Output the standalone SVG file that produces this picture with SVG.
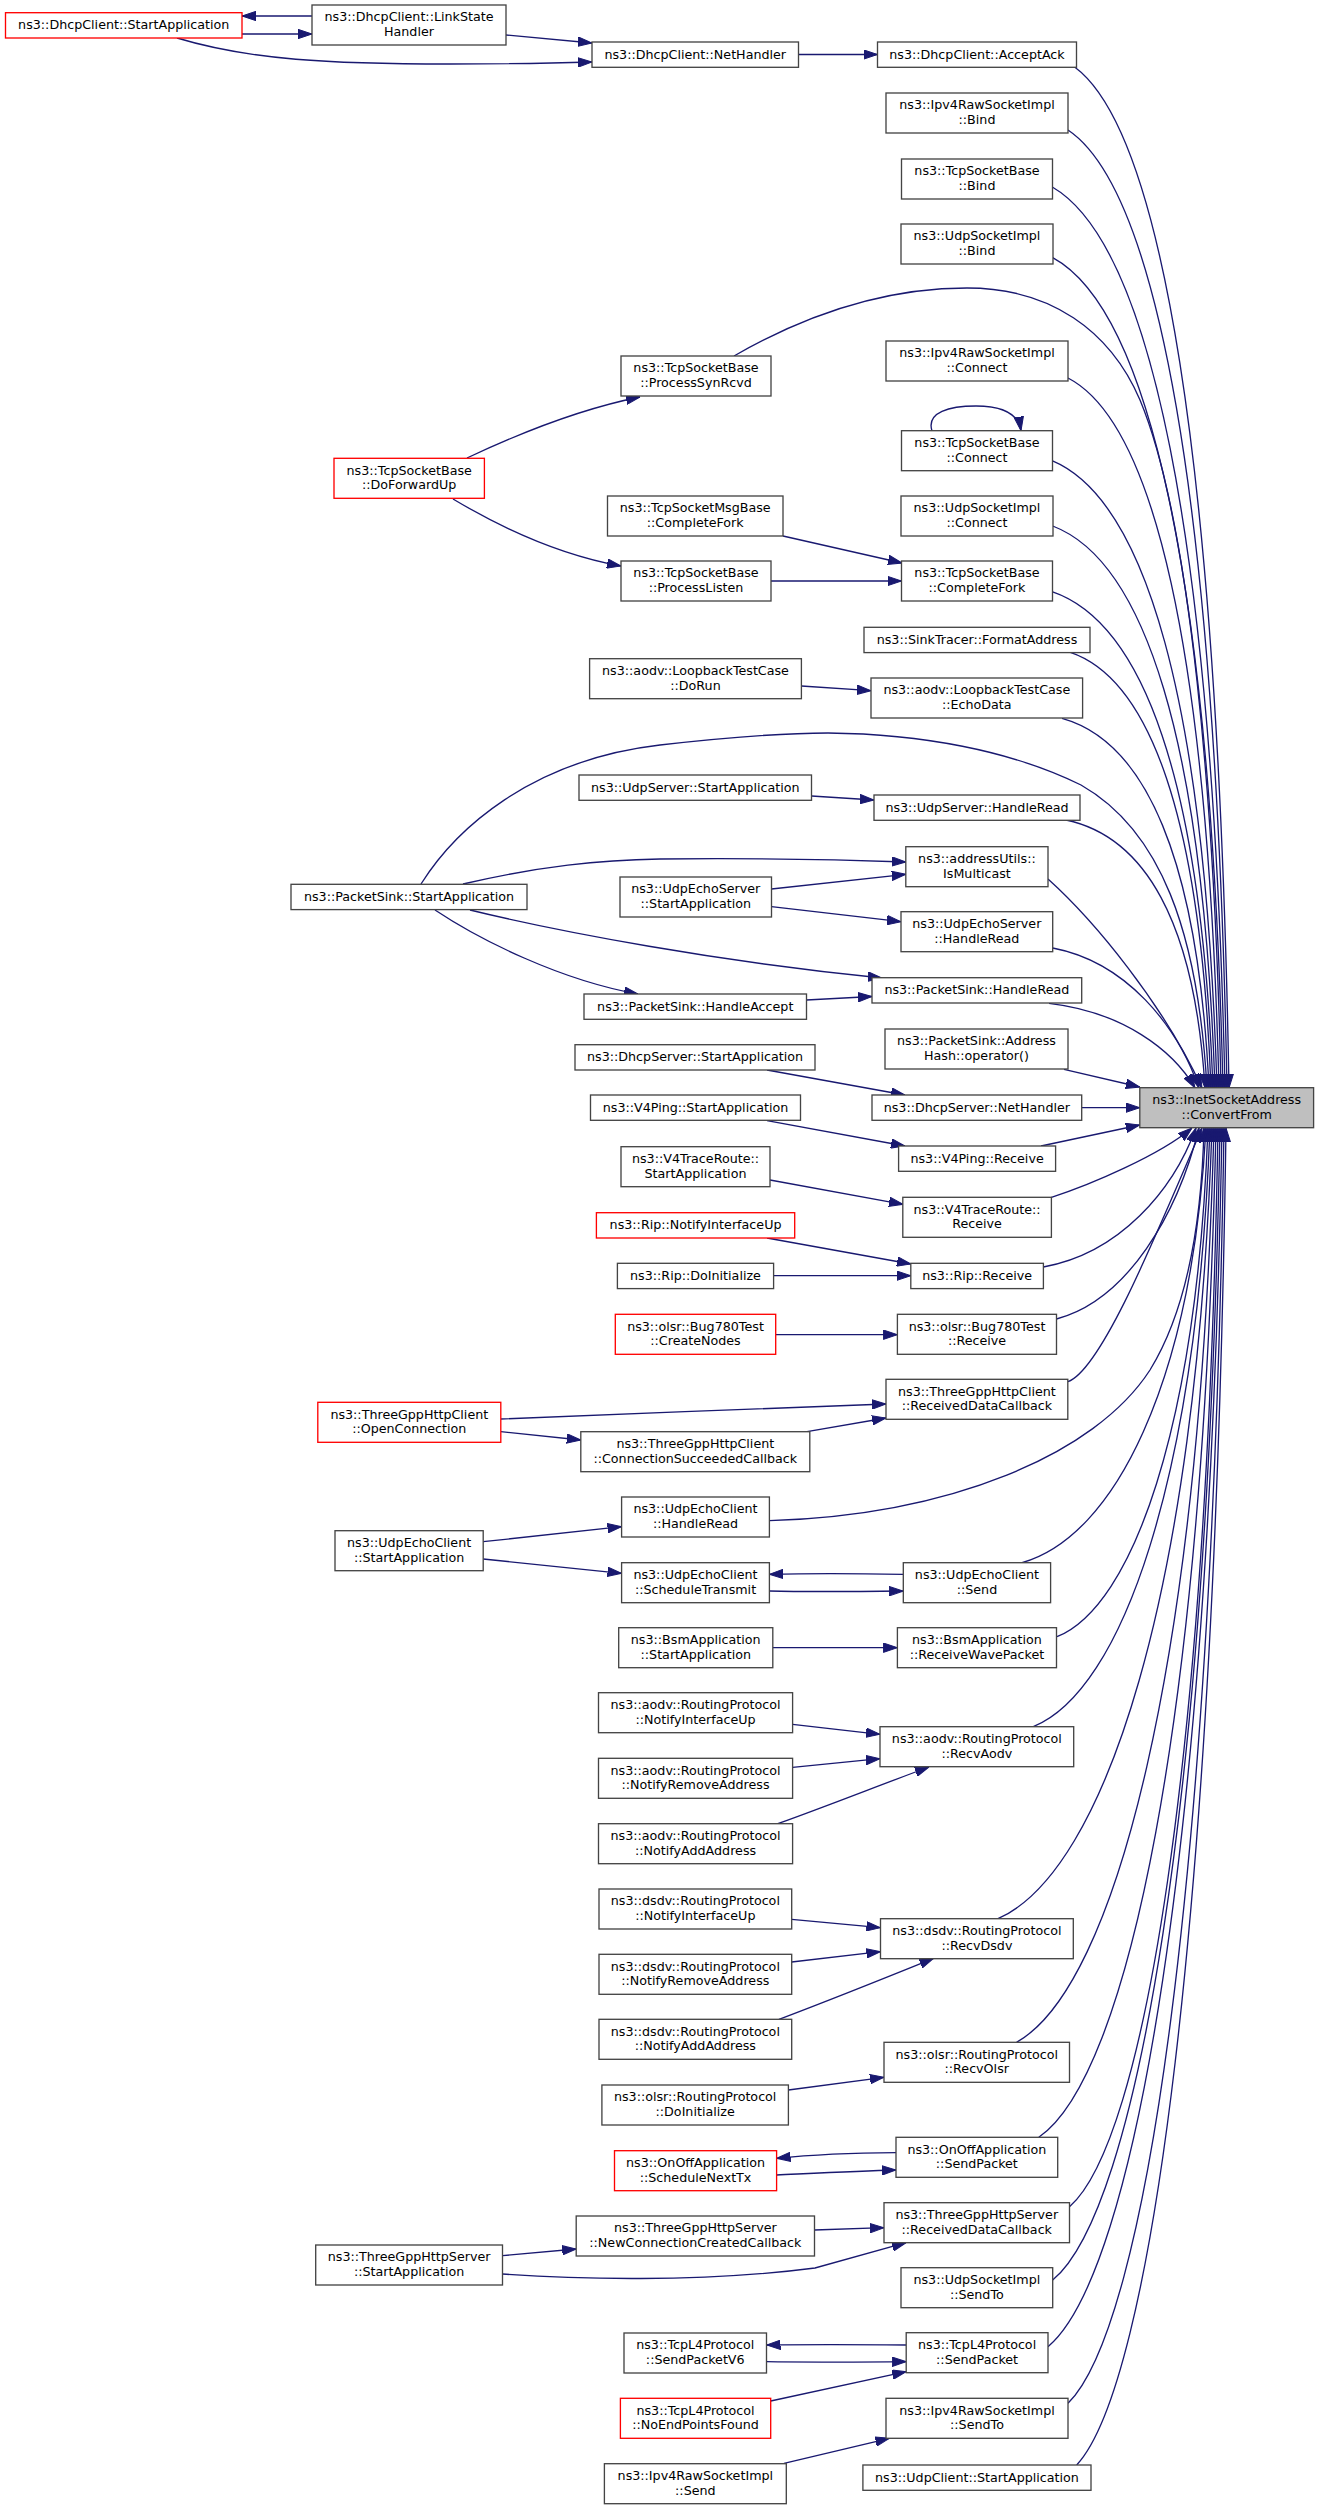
<svg xmlns="http://www.w3.org/2000/svg" width="1323" height="2509" viewBox="0 0 1323 2509">
<defs>
<style>
.n rect{fill:#ffffff;stroke:#444444;stroke-width:1.33}
.r rect{fill:#ffffff;stroke:#ff0000;stroke-width:1.33}
.g rect{fill:#bfbfbf;stroke:#444444;stroke-width:1.33}
text{font-family:"DejaVu Sans","Liberation Sans",sans-serif;font-size:12.7px;text-anchor:middle;fill:#000000}
#edges path{fill:none;stroke:#191970;stroke-width:1.33;marker-end:url(#a)}
</style>
<marker id="a" markerUnits="userSpaceOnUse" markerWidth="14" markerHeight="10" viewBox="0 0 14 10" refX="14" refY="5" orient="auto">
<path d="M0,0.3 L14,5 L0,9.7 z" fill="#191970" stroke="#191970" stroke-width="1"/>
</marker>
</defs>
<rect x="0" y="0" width="1323" height="2509" fill="#ffffff"/>
<g id="edges">
<path d="M312,16 L242,16"/>
<path d="M242,34 L312,34"/>
<path d="M506,35 L592,43"/>
<path d="M177,38 C250,60 330,64 450,64 C510,64 560,63 592,62"/>
<path d="M798.5,54.5 L877.5,54.5"/>
<path d="M1074.6,67 C1160.5,130.3 1217.8,451.9 1229,1088"/>
<path d="M1068,130 C1156.5,189.4 1215.5,491.2 1227,1088"/>
<path d="M1052.3,187 C1148.5,242.9 1212.5,526.7 1225,1088"/>
<path d="M1052.7,257.7 C1147.5,309.2 1210.6,570.7 1223,1088"/>
<path d="M467,458 C520,433 585,408 640,397"/>
<path d="M734,356 C800,318 880,288 967,288 C1050,288 1110,330 1140,400 C1190,520 1215,800 1221,1088"/>
<path d="M1068,378 C1153.1,422 1207.9,645.7 1219,1088"/>
<path d="M1052,460.7 C1145,499.6 1204.9,697.2 1217,1088"/>
<path d="M1052.7,526 C1144.1,560.8 1203.1,737.9 1215,1088"/>
<path d="M1052,591.7 C1142.7,622.5 1201.2,778.8 1213,1088"/>
<path d="M1070.4,652.3 C1149.7,679.3 1200.7,816.6 1211,1088"/>
<path d="M1062,718.3 C1144.9,741.2 1198.2,857.7 1209,1088"/>
<path d="M421,884 C455,830 530,760 660,745 C740,736 790,733 828,733 C920,734 1010,750 1081,785 C1160,830 1198,930 1207,1088"/>
<path d="M1066,820 C1144.4,836.6 1194.8,921 1205,1088"/>
<path d="M1048,879 C1094.5,920.8 1163.5,1004.4 1202,1088"/>
<path d="M1052.7,948 C1126,962 1177,1025 1199,1088"/>
<path d="M1049,1003.3 C1122.5,1011.8 1173,1050 1195,1088"/>
<path d="M453,499 C500,527 560,555 621,566"/>
<path d="M783,536 L902,563"/>
<path d="M771,581 L901.5,581"/>
<path d="M932,431 C926,412 950,406 976,406 C1000,406 1018,412 1021,430.7"/>
<path d="M801.4,686 L871,690.7"/>
<path d="M811.5,796 L874,800"/>
<path d="M463,884 C540,866 600,860 660,859 C760,858 850,860 905.8,862"/>
<path d="M771.5,889 L905.8,874.3"/>
<path d="M771.5,906.7 L901,921.7"/>
<path d="M470,910 C560,932 720,962 882,978"/>
<path d="M435,910 C480,940 560,980 638,994"/>
<path d="M806.5,1000 L872,996.5"/>
<path d="M767,1070 L905,1095"/>
<path d="M1064,1069.3 L1139.8,1087"/>
<path d="M1081.7,1107.7 L1139.8,1107.7"/>
<path d="M767,1120.7 L905,1146"/>
<path d="M1041,1146 L1139.8,1125"/>
<path d="M770,1180 L903,1204.3"/>
<path d="M767,1238 L911,1264"/>
<path d="M773.6,1275.7 L910.8,1275.7"/>
<path d="M775.7,1334.7 L897.4,1334.7"/>
<path d="M500.8,1419 C600,1415 800,1407 886,1404"/>
<path d="M500.8,1431.7 L580.8,1440"/>
<path d="M807,1431.7 L886,1418"/>
<path d="M483.2,1541.7 L621.6,1526.7"/>
<path d="M483.2,1559 L621.6,1573.3"/>
<path d="M903.3,1574.3 C860,1573.5 800,1573.5 769.4,1574.3"/>
<path d="M769.4,1591 C810,1592 860,1591.5 903.3,1591"/>
<path d="M772.8,1647.7 L897.4,1647.7"/>
<path d="M792.6,1724.3 L880,1734.3"/>
<path d="M792.6,1767.3 L880,1758.7"/>
<path d="M777.8,1823.7 C830,1805 880,1785 929,1767"/>
<path d="M791.7,1919.3 L880.5,1927.7"/>
<path d="M791.7,1962 L880.5,1951.7"/>
<path d="M779,2019.3 C830,2000 880,1980 933.6,1958.3"/>
<path d="M788.4,2090 L884,2077.3"/>
<path d="M896,2152.7 C850,2153 810,2155 776.6,2158.3"/>
<path d="M776.6,2175 C820,2173 860,2171 896,2170"/>
<path d="M814.5,2230 L884,2227.7"/>
<path d="M502.5,2274 C570,2279 700,2283 815,2268 L906,2242.7"/>
<path d="M502.5,2255.7 L576.2,2249"/>
<path d="M906.2,2345 C860,2344.5 800,2344.5 766.5,2345"/>
<path d="M766.5,2361.7 C810,2362.5 860,2362 906.2,2361.7"/>
<path d="M770.7,2401 L906.2,2371.7"/>
<path d="M784,2463.3 L889.4,2438.3"/>
<path d="M1051.4,1197.3 C1090,1185 1160,1155 1192,1128"/>
<path d="M1043.4,1267 C1119.7,1253.1 1173.1,1190.6 1196,1128"/>
<path d="M1056.5,1319 C1127.8,1299.9 1177.6,1214 1199,1128"/>
<path d="M1068,1381.7 C1100,1370 1150,1250 1202,1128"/>
<path d="M769.4,1520.7 C950,1515 1095,1455 1150,1370 C1190,1305 1202,1210 1204,1128"/>
<path d="M1022,1562.7 C1114,1536.6 1192.2,1384.5 1206,1128"/>
<path d="M1057,1636.7 C1132.5,1606.2 1196.7,1428.1 1208,1128"/>
<path d="M1033.3,1726.7 C1121.7,1690.8 1196.7,1481.2 1210,1128"/>
<path d="M998,1918.7 C1105,1871.3 1196,1594.5 1212,1128"/>
<path d="M1016.5,2042.3 C1115.3,1987.4 1199.2,1667.4 1214,1128"/>
<path d="M1038.8,2137.3 C1127.4,2076.7 1202.7,1723.5 1216,1128"/>
<path d="M1069.5,2206.7 C1143.8,2142 1206.9,1764.4 1218,1128"/>
<path d="M1052.7,2280 C1136.4,2210.9 1207.5,1807.7 1220,1128"/>
<path d="M1048,2346.7 C1135,2273.6 1209,1847 1222,1128"/>
<path d="M1068,2403.3 C1146,2326.8 1212.3,1880.4 1224,1128"/>
<path d="M1076.7,2465 C1151.4,2384.8 1214.8,1916.8 1226,1128"/>
</g>
<g id="n1" class="r"><rect x="5.5" y="12.7" width="236.5" height="25.3"/><text x="123.75" y="29.3">ns3::DhcpClient::StartApplication</text></g>
<g id="n2" class="n"><rect x="312" y="5" width="194" height="40"/><text x="409" y="21.3">ns3::DhcpClient::LinkState</text><text x="409" y="36">Handler</text></g>
<g id="n3" class="n"><rect x="592" y="42" width="206.5" height="25.3"/><text x="695.25" y="58.6">ns3::DhcpClient::NetHandler</text></g>
<g id="n4" class="n"><rect x="877.5" y="42" width="199" height="25.3"/><text x="977" y="58.6">ns3::DhcpClient::AcceptAck</text></g>
<g id="n5" class="n"><rect x="886" y="93" width="182" height="40"/><text x="977" y="109.3">ns3::Ipv4RawSocketImpl</text><text x="977" y="124">::Bind</text></g>
<g id="n6" class="n"><rect x="901.5" y="159" width="151" height="40"/><text x="977" y="175.3">ns3::TcpSocketBase</text><text x="977" y="190">::Bind</text></g>
<g id="n7" class="n"><rect x="901" y="224" width="152" height="40"/><text x="977" y="240.3">ns3::UdpSocketImpl</text><text x="977" y="255">::Bind</text></g>
<g id="n8" class="n"><rect x="621" y="356" width="150" height="40"/><text x="696" y="372.3">ns3::TcpSocketBase</text><text x="696" y="387">::ProcessSynRcvd</text></g>
<g id="n9" class="n"><rect x="886" y="341" width="182" height="40"/><text x="977" y="357.3">ns3::Ipv4RawSocketImpl</text><text x="977" y="372">::Connect</text></g>
<g id="n10" class="n"><rect x="901.5" y="430.7" width="151" height="40"/><text x="977" y="447">ns3::TcpSocketBase</text><text x="977" y="461.7">::Connect</text></g>
<g id="n11" class="n"><rect x="901" y="496" width="152" height="40"/><text x="977" y="512.3">ns3::UdpSocketImpl</text><text x="977" y="527">::Connect</text></g>
<g id="n12" class="n"><rect x="901.5" y="561" width="151" height="40"/><text x="977" y="577.3">ns3::TcpSocketBase</text><text x="977" y="592">::CompleteFork</text></g>
<g id="n13" class="n"><rect x="607.5" y="496" width="175.5" height="40"/><text x="695.25" y="512.3">ns3::TcpSocketMsgBase</text><text x="695.25" y="527">::CompleteFork</text></g>
<g id="n14" class="n"><rect x="621" y="561" width="150" height="40"/><text x="696" y="577.3">ns3::TcpSocketBase</text><text x="696" y="592">::ProcessListen</text></g>
<g id="n15" class="r"><rect x="334" y="458.3" width="150.4" height="40"/><text x="409.2" y="474.6">ns3::TcpSocketBase</text><text x="409.2" y="489.3">::DoForwardUp</text></g>
<g id="n16" class="n"><rect x="864" y="627.3" width="226" height="25.3"/><text x="977" y="643.9">ns3::SinkTracer::FormatAddress</text></g>
<g id="n17" class="n"><rect x="589.6" y="658.7" width="211.8" height="40"/><text x="695.5" y="675">ns3::aodv::LoopbackTestCase</text><text x="695.5" y="689.7">::DoRun</text></g>
<g id="n18" class="n"><rect x="871" y="678" width="211.6" height="40"/><text x="976.8" y="694.3">ns3::aodv::LoopbackTestCase</text><text x="976.8" y="709">::EchoData</text></g>
<g id="n19" class="n"><rect x="579" y="775" width="232.5" height="25.3"/><text x="695.25" y="791.6">ns3::UdpServer::StartApplication</text></g>
<g id="n20" class="n"><rect x="874" y="795" width="206" height="25.3"/><text x="977" y="811.6">ns3::UdpServer::HandleRead</text></g>
<g id="n21" class="n"><rect x="905.8" y="846.7" width="142.2" height="40"/><text x="976.9" y="863">ns3::addressUtils::</text><text x="976.9" y="877.7">IsMulticast</text></g>
<g id="n22" class="n"><rect x="291" y="884.3" width="236" height="25.3"/><text x="409" y="900.9">ns3::PacketSink::StartApplication</text></g>
<g id="n23" class="n"><rect x="620" y="877" width="151.5" height="40"/><text x="695.75" y="893.3">ns3::UdpEchoServer</text><text x="695.75" y="908">::StartApplication</text></g>
<g id="n24" class="n"><rect x="901" y="911.7" width="151.7" height="40"/><text x="976.85" y="928">ns3::UdpEchoServer</text><text x="976.85" y="942.7">::HandleRead</text></g>
<g id="n25" class="n"><rect x="872" y="977.7" width="209.7" height="25.3"/><text x="976.85" y="994.3">ns3::PacketSink::HandleRead</text></g>
<g id="n26" class="n"><rect x="584" y="994" width="222.5" height="25.3"/><text x="695.25" y="1010.6">ns3::PacketSink::HandleAccept</text></g>
<g id="n27" class="n"><rect x="885" y="1029" width="183" height="40"/><text x="976.5" y="1045.3">ns3::PacketSink::Address</text><text x="976.5" y="1060">Hash::operator()</text></g>
<g id="n28" class="n"><rect x="575" y="1044.7" width="240" height="25.3"/><text x="695" y="1061.3">ns3::DhcpServer::StartApplication</text></g>
<g id="n29" class="n"><rect x="872" y="1095" width="209.7" height="25.3"/><text x="976.85" y="1111.6">ns3::DhcpServer::NetHandler</text></g>
<g id="n30" class="g"><rect x="1139.8" y="1087.7" width="173.8" height="40"/><text x="1226.7" y="1104">ns3::InetSocketAddress</text><text x="1226.7" y="1118.7">::ConvertFrom</text></g>
<g id="n31" class="n"><rect x="590.5" y="1095" width="210" height="25.3"/><text x="695.5" y="1111.6">ns3::V4Ping::StartApplication</text></g>
<g id="n32" class="n"><rect x="898.6" y="1146" width="157" height="25.3"/><text x="977.1" y="1162.6">ns3::V4Ping::Receive</text></g>
<g id="n33" class="n"><rect x="621" y="1146.7" width="149" height="40"/><text x="695.5" y="1163">ns3::V4TraceRoute::</text><text x="695.5" y="1177.7">StartApplication</text></g>
<g id="n34" class="n"><rect x="902.8" y="1197.3" width="148.6" height="40"/><text x="977.1" y="1213.6">ns3::V4TraceRoute::</text><text x="977.1" y="1228.3">Receive</text></g>
<g id="n35" class="r"><rect x="596.4" y="1212.7" width="198.3" height="25.3"/><text x="695.55" y="1229.3">ns3::Rip::NotifyInterfaceUp</text></g>
<g id="n36" class="n"><rect x="617.4" y="1263.3" width="156.2" height="25.3"/><text x="695.5" y="1279.9">ns3::Rip::DoInitialize</text></g>
<g id="n37" class="n"><rect x="910.8" y="1263.3" width="132.6" height="25.3"/><text x="977.1" y="1279.9">ns3::Rip::Receive</text></g>
<g id="n38" class="r"><rect x="615.3" y="1314.3" width="160.4" height="40"/><text x="695.5" y="1330.6">ns3::olsr::Bug780Test</text><text x="695.5" y="1345.3">::CreateNodes</text></g>
<g id="n39" class="n"><rect x="897.4" y="1314.3" width="159.1" height="40"/><text x="977" y="1330.6">ns3::olsr::Bug780Test</text><text x="977" y="1345.3">::Receive</text></g>
<g id="n40" class="r"><rect x="317.8" y="1402.3" width="183" height="40"/><text x="409.3" y="1418.6">ns3::ThreeGppHttpClient</text><text x="409.3" y="1433.3">::OpenConnection</text></g>
<g id="n41" class="n"><rect x="886" y="1379.3" width="181.8" height="40"/><text x="976.9" y="1395.6">ns3::ThreeGppHttpClient</text><text x="976.9" y="1410.3">::ReceivedDataCallback</text></g>
<g id="n42" class="n"><rect x="580.8" y="1431.7" width="229" height="40"/><text x="695.3" y="1448">ns3::ThreeGppHttpClient</text><text x="695.3" y="1462.7">::ConnectionSucceededCallback</text></g>
<g id="n43" class="n"><rect x="621.6" y="1497" width="147.8" height="40"/><text x="695.5" y="1513.3">ns3::UdpEchoClient</text><text x="695.5" y="1528">::HandleRead</text></g>
<g id="n44" class="n"><rect x="335" y="1530.7" width="148.2" height="40"/><text x="409.1" y="1547">ns3::UdpEchoClient</text><text x="409.1" y="1561.7">::StartApplication</text></g>
<g id="n45" class="n"><rect x="621.6" y="1562.7" width="147.8" height="40"/><text x="695.5" y="1579">ns3::UdpEchoClient</text><text x="695.5" y="1593.7">::ScheduleTransmit</text></g>
<g id="n46" class="n"><rect x="903.3" y="1562.7" width="147.3" height="40"/><text x="976.95" y="1579">ns3::UdpEchoClient</text><text x="976.95" y="1593.7">::Send</text></g>
<g id="n47" class="n"><rect x="618.7" y="1627.7" width="154.1" height="40"/><text x="695.75" y="1644">ns3::BsmApplication</text><text x="695.75" y="1658.7">::StartApplication</text></g>
<g id="n48" class="n"><rect x="897.4" y="1627.7" width="159.1" height="40"/><text x="977" y="1644">ns3::BsmApplication</text><text x="977" y="1658.7">::ReceiveWavePacket</text></g>
<g id="n49" class="n"><rect x="598.5" y="1692.7" width="194.1" height="40"/><text x="695.55" y="1709">ns3::aodv::RoutingProtocol</text><text x="695.55" y="1723.7">::NotifyInterfaceUp</text></g>
<g id="n50" class="n"><rect x="598.5" y="1758.3" width="194.1" height="40"/><text x="695.55" y="1774.6">ns3::aodv::RoutingProtocol</text><text x="695.55" y="1789.3">::NotifyRemoveAddress</text></g>
<g id="n51" class="n"><rect x="598.5" y="1823.7" width="194.1" height="40"/><text x="695.55" y="1840">ns3::aodv::RoutingProtocol</text><text x="695.55" y="1854.7">::NotifyAddAddress</text></g>
<g id="n52" class="n"><rect x="880" y="1726.7" width="193.7" height="40"/><text x="976.85" y="1743">ns3::aodv::RoutingProtocol</text><text x="976.85" y="1757.7">::RecvAodv</text></g>
<g id="n53" class="n"><rect x="599" y="1889" width="192.7" height="40"/><text x="695.35" y="1905.3">ns3::dsdv::RoutingProtocol</text><text x="695.35" y="1920">::NotifyInterfaceUp</text></g>
<g id="n54" class="n"><rect x="599" y="1954.3" width="192.7" height="40"/><text x="695.35" y="1970.6">ns3::dsdv::RoutingProtocol</text><text x="695.35" y="1985.3">::NotifyRemoveAddress</text></g>
<g id="n55" class="n"><rect x="599" y="2019.3" width="192.7" height="40"/><text x="695.35" y="2035.6">ns3::dsdv::RoutingProtocol</text><text x="695.35" y="2050.3">::NotifyAddAddress</text></g>
<g id="n56" class="n"><rect x="880.5" y="1918.7" width="192.8" height="40"/><text x="976.9" y="1935">ns3::dsdv::RoutingProtocol</text><text x="976.9" y="1949.7">::RecvDsdv</text></g>
<g id="n57" class="n"><rect x="601.9" y="2085" width="186.5" height="40"/><text x="695.15" y="2101.3">ns3::olsr::RoutingProtocol</text><text x="695.15" y="2116">::DoInitialize</text></g>
<g id="n58" class="n"><rect x="884" y="2042.3" width="185.5" height="40"/><text x="976.75" y="2058.6">ns3::olsr::RoutingProtocol</text><text x="976.75" y="2073.3">::RecvOlsr</text></g>
<g id="n59" class="r"><rect x="614.5" y="2150.7" width="162.1" height="40"/><text x="695.55" y="2167">ns3::OnOffApplication</text><text x="695.55" y="2181.7">::ScheduleNextTx</text></g>
<g id="n60" class="n"><rect x="896" y="2137.3" width="161.7" height="40"/><text x="976.85" y="2153.6">ns3::OnOffApplication</text><text x="976.85" y="2168.3">::SendPacket</text></g>
<g id="n61" class="n"><rect x="576.2" y="2216" width="238.3" height="40"/><text x="695.35" y="2232.3">ns3::ThreeGppHttpServer</text><text x="695.35" y="2247">::NewConnectionCreatedCallback</text></g>
<g id="n62" class="n"><rect x="884" y="2202.7" width="185.5" height="40"/><text x="976.75" y="2219">ns3::ThreeGppHttpServer</text><text x="976.75" y="2233.7">::ReceivedDataCallback</text></g>
<g id="n63" class="n"><rect x="315.7" y="2245" width="186.8" height="40"/><text x="409.1" y="2261.3">ns3::ThreeGppHttpServer</text><text x="409.1" y="2276">::StartApplication</text></g>
<g id="n64" class="n"><rect x="901" y="2267.7" width="151.7" height="40"/><text x="976.85" y="2284">ns3::UdpSocketImpl</text><text x="976.85" y="2298.7">::SendTo</text></g>
<g id="n65" class="n"><rect x="624" y="2333" width="142.5" height="40"/><text x="695.25" y="2349.3">ns3::TcpL4Protocol</text><text x="695.25" y="2364">::SendPacketV6</text></g>
<g id="n66" class="n"><rect x="906.2" y="2332.7" width="141.8" height="40"/><text x="977.1" y="2349">ns3::TcpL4Protocol</text><text x="977.1" y="2363.7">::SendPacket</text></g>
<g id="n67" class="r"><rect x="620.4" y="2398.3" width="150.3" height="40"/><text x="695.55" y="2414.6">ns3::TcpL4Protocol</text><text x="695.55" y="2429.3">::NoEndPointsFound</text></g>
<g id="n68" class="n"><rect x="886" y="2398.3" width="182" height="40"/><text x="977" y="2414.6">ns3::Ipv4RawSocketImpl</text><text x="977" y="2429.3">::SendTo</text></g>
<g id="n69" class="n"><rect x="604.4" y="2463.7" width="181.9" height="40"/><text x="695.35" y="2480">ns3::Ipv4RawSocketImpl</text><text x="695.35" y="2494.7">::Send</text></g>
<g id="n70" class="n"><rect x="862.9" y="2465" width="228.1" height="25.3"/><text x="976.95" y="2481.6">ns3::UdpClient::StartApplication</text></g>
</svg>
